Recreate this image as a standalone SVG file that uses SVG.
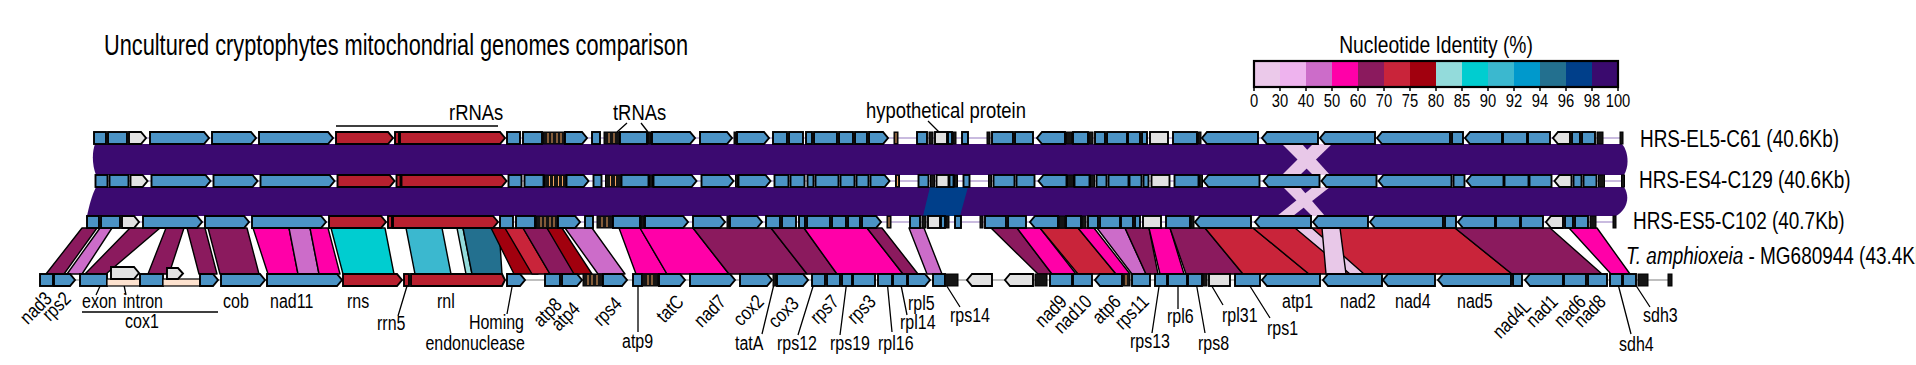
<svg xmlns="http://www.w3.org/2000/svg" width="1916" height="365" viewBox="0 0 1916 365">
<style>
text{font-family:"Liberation Sans",Arial,sans-serif;fill:#000}
.b{fill:#4b93c5;stroke:#000;stroke-width:1.9}
.r{fill:#b8202f;stroke:#000;stroke-width:1.9}
.h{fill:#e2e2e2;stroke:#000;stroke-width:1.9}
.k{fill:#141414;stroke:#000;stroke-width:1}
.i{fill:#fde2cf;stroke:#000;stroke-width:1.2}
.o{stroke:#f2a35e;stroke-width:1}
.bb{stroke:#b7a5d4;stroke-width:1.6}
.bg{stroke:#aaa;stroke-width:1.6}
.lk polygon{stroke:#000;stroke-width:1.4;stroke-linejoin:round}
.ln{stroke:#000;stroke-width:1.3;fill:none}
.DM{fill:#8b1a5e}.MG{fill:#ff00a8}.OR{fill:#cc6cc9}.CY{fill:#00cdd0}.B90{fill:#3bb8cf}.LT{fill:#93dbdb}.TE{fill:#23708f}.DR{fill:#a1000e}.CR{fill:#c9243a}.LV{fill:#e8c8e8}
.lb{font-size:19.5px}
.gl{font-size:22.5px}
.rl{font-size:24px}
.tk{font-size:18px;text-anchor:middle}
.e{text-anchor:end}
</style>
<defs>
<g id="rowGenes">
<line class="bb" x1="94" y1="6" x2="1623" y2="6"/>
<rect class="b" x="94" y="0" width="12" height="12"/>
<rect class="b" x="108" y="0" width="19" height="12"/>
<polygon class="h" points="129,0 141,0 146,6 141,12 129,12"/>
<polygon class="b" points="150,0 204,0 209,6 204,12 150,12"/>
<polygon class="b" points="212,0 251,0 256,6 251,12 212,12"/>
<polygon class="b" points="259,0 328,0 333,6 328,12 259,12"/>
<polygon class="r" points="336,0 388,0 393,6 388,12 336,12"/>
<rect class="r" x="395" y="0" width="4" height="12"/>
<polygon class="r" points="400,0 500,0 505,6 500,12 400,12"/>
<rect class="b" x="507" y="0" width="13" height="12"/>
<rect class="b" x="523" y="0" width="19" height="12"/>
<rect class="k" x="543" y="0" width="22" height="12"/>
<path class="o" d="M548,1V11M552,1V11M557,1V11M561,1V11"/>
<polygon class="b" points="565,0 582,0 587,6 582,12 565,12"/>
<rect class="b" x="592" y="0" width="8" height="12"/>
<rect class="k" x="604" y="0" width="16" height="12"/>
<path class="o" d="M609,1V11M614,1V11"/>
<rect class="b" x="620" y="0" width="27" height="12"/>
<rect class="k" x="648" y="0" width="3" height="12"/>
<polygon class="b" points="652,0 690,0 695,6 690,12 652,12"/>
<polygon class="b" points="700,0 727,0 732,6 727,12 700,12"/>
<rect class="k" x="734" y="0" width="2" height="12"/>
<polygon class="b" points="737,0 764,0 769,6 764,12 737,12"/>
<rect class="b" x="773" y="0" width="14" height="12"/>
<rect class="b" x="789" y="0" width="14" height="12"/>
<rect class="b" x="806" y="0" width="6" height="12"/>
<rect class="b" x="814" y="0" width="23" height="12"/>
<rect class="b" x="839" y="0" width="14" height="12"/>
<rect class="b" x="855" y="0" width="12" height="12"/>
<polygon class="b" points="869,0 883,0 888,6 883,12 869,12"/>
<rect class="k" x="894" y="0" width="4" height="12"/>
<path class="o" d="M896,1V11"/>
<rect class="b" x="917" y="0" width="10" height="12"/>
<rect class="k" x="929" y="0" width="4" height="12"/>
<rect class="h" x="935" y="0" width="12" height="12"/>
<rect class="b" x="948" y="0" width="4" height="12"/>
<rect class="k" x="953" y="0" width="3" height="12"/>
<rect class="b" x="962" y="0" width="6" height="12"/>
<rect class="k" x="987" y="0" width="3" height="12"/>
<rect class="b" x="992" y="0" width="21" height="12"/>
<rect class="b" x="1015" y="0" width="18" height="12"/>
<polygon class="b" points="1042,0 1065,0 1065,12 1042,12 1037,6"/>
<rect class="k" x="1066" y="0" width="6" height="12"/>
<rect class="b" x="1073" y="0" width="15" height="12"/>
<rect class="k" x="1089" y="0" width="4" height="12"/>
<rect class="b" x="1095" y="0" width="10" height="12"/>
<rect class="b" x="1107" y="0" width="20" height="12"/>
<rect class="b" x="1128" y="0" width="12" height="12"/>
<rect class="b" x="1142" y="0" width="5" height="12"/>
<rect class="h" x="1150" y="0" width="18" height="12"/>
<rect class="b" x="1173" y="0" width="24" height="12"/>
<rect class="k" x="1198" y="0" width="3" height="12"/>
<polygon class="b" points="1207,0 1258,0 1258,12 1207,12 1202,6"/>
<polygon class="b" points="1267,0 1318,0 1318,12 1267,12 1262,6"/>
<polygon class="b" points="1325,0 1375,0 1375,12 1325,12 1320,6"/>
<polygon class="b" points="1382,0 1450,0 1450,12 1382,12 1377,6"/>
<rect class="b" x="1452" y="0" width="11" height="12"/>
<polygon class="b" points="1470,0 1502,0 1502,12 1470,12 1465,6"/>
<rect class="b" x="1503" y="0" width="24" height="12"/>
<rect class="b" x="1528" y="0" width="22" height="12"/>
<polygon class="h" points="1558,0 1570,0 1570,12 1558,12 1553,6"/>
<rect class="b" x="1572" y="0" width="8" height="12"/>
<rect class="b" x="1582" y="0" width="13" height="12"/>
<rect class="k" x="1597" y="0" width="6" height="12"/>
<rect class="k" x="1620" y="0" width="3" height="12"/>
</g>
</defs>

<text id="title" x="104" y="55" font-size="29" textLength="584" lengthAdjust="spacingAndGlyphs">Uncultured cryptophytes mitochondrial genomes comparison</text>

<g id="legend">
<text transform="translate(1436,53) scale(.82,1)" font-size="23.5" text-anchor="middle">Nucleotide Identity (%)</text>
<rect x="1254" y="61" width="26" height="26" fill="#ebc9ea"/>
<rect x="1280" y="61" width="26" height="26" fill="#eeb3ee"/>
<rect x="1306" y="61" width="26" height="26" fill="#cc6cc9"/>
<rect x="1332" y="61" width="26" height="26" fill="#ff00a8"/>
<rect x="1358" y="61" width="26" height="26" fill="#8b1a5e"/>
<rect x="1384" y="61" width="26" height="26" fill="#c9243a"/>
<rect x="1410" y="61" width="26" height="26" fill="#a1000e"/>
<rect x="1436" y="61" width="26" height="26" fill="#93dbdb"/>
<rect x="1462" y="61" width="26" height="26" fill="#00cdd0"/>
<rect x="1488" y="61" width="26" height="26" fill="#3bb8cf"/>
<rect x="1514" y="61" width="26" height="26" fill="#0099cc"/>
<rect x="1540" y="61" width="26" height="26" fill="#23708f"/>
<rect x="1566" y="61" width="26" height="26" fill="#003f8a"/>
<rect x="1592" y="61" width="26" height="26" fill="#3a0a6e"/>
<rect x="1254" y="61" width="364" height="26" fill="none" stroke="#000" stroke-width="2.2"/>
<path d="M1254,87v4M1280,87v4M1306,87v4M1332,87v4M1358,87v4M1384,87v4M1410,87v4M1436,87v4M1462,87v4M1488,87v4M1514,87v4M1540,87v4M1566,87v4M1592,87v4M1618,87v4" stroke="#000" stroke-width="1.5"/>
<text class="tk" transform="translate(1254,107) scale(.82,1)">0</text><text class="tk" transform="translate(1280,107) scale(.82,1)">30</text><text class="tk" transform="translate(1306,107) scale(.82,1)">40</text><text class="tk" transform="translate(1332,107) scale(.82,1)">50</text><text class="tk" transform="translate(1358,107) scale(.82,1)">60</text><text class="tk" transform="translate(1384,107) scale(.82,1)">70</text><text class="tk" transform="translate(1410,107) scale(.82,1)">75</text><text class="tk" transform="translate(1436,107) scale(.82,1)">80</text><text class="tk" transform="translate(1462,107) scale(.82,1)">85</text><text class="tk" transform="translate(1488,107) scale(.82,1)">90</text><text class="tk" transform="translate(1514,107) scale(.82,1)">92</text><text class="tk" transform="translate(1540,107) scale(.82,1)">94</text><text class="tk" transform="translate(1566,107) scale(.82,1)">96</text><text class="tk" transform="translate(1592,107) scale(.82,1)">98</text><text class="tk" transform="translate(1618,107) scale(.82,1)">100</text>
</g>

<g id="connectors">
<path d="M95,144 L1622,144 C1629,152 1629,167 1624,175 L96,175 C92,165 92,152 95,144 Z" fill="#3b0a70"/>
<path d="M96,187 L1624,187 C1630,196 1628,209 1616,216 L87,216 C89,206 92,195 96,187 Z" fill="#3b0a70"/>
<polygon class="LV" points="1282,144 1302,144 1330,175 1313,175"/>
<polygon class="LV" points="1313,144 1332,144 1300,175 1282,175"/>
<polygon class="LV" points="1283,187 1300,187 1325,216 1312,216"/>
<polygon class="LV" points="1313,187 1330,187 1293,216 1277,216"/>
<polygon fill="#003f8a" points="930,187 968,187 960,216 923,216"/>
<g class="lk">
<polygon class="DM" points="82,228 97,228 64,274 46,274"/>
<polygon class="OR" points="100,228 112,228 82,274 67,274"/>
<polygon class="DM" points="130,228 160,228 106,274 85,274"/>
<polygon class="DM" points="166,228 184,228 169,274 148,274"/>
<polygon class="DM" points="187,228 205,228 217,274 199,274"/>
<polygon class="DM" points="208,228 247,228 259,274 220,274"/>
<polygon class="MG" points="253,228 289,228 298,274 268,274"/>
<polygon class="OR" points="289,228 310,228 319,274 298,274"/>
<polygon class="MG" points="310,228 328,228 340,274 319,274"/>
<polygon class="CY" points="331,228 385,228 394,274 343,274"/>
<polygon class="B90" points="406,228 442,228 451,274 415,274"/>
<polygon class="LT" points="457,228 463,228 472,274 466,274"/>
<polygon class="TE" points="463,228 499,228 502,274 472,274"/>
<polygon class="DR" points="491,228 505,228 538,274 514,274"/>
<polygon class="CR" points="505,228 523,228 550,274 532,274"/>
<polygon class="DM" points="523,228 547,228 580,274 550,274"/>
<polygon class="DR" points="547,228 562,228 592,274 574,274"/>
<polygon class="OR" points="565,228 592,228 625,274 598,274"/>
<polygon class="MG" points="619,228 640,228 667,274 636,274"/>
<polygon class="MG" points="640,228 693,228 729,274 667,274"/>
<polygon class="DM" points="693,228 771,228 807,274 729,274"/>
<polygon class="DM" points="771,228 804,228 837,274 807,274"/>
<polygon class="MG" points="804,228 867,228 903,274 837,274"/>
<polygon class="DM" points="867,228 882,228 918,274 903,274"/>
<polygon class="OR" points="909,228 924,228 942,274 927,274"/>
<polygon class="DM" points="991,228 1017,228 1052,274 1038,274"/>
<polygon class="MG" points="1017,228 1040,228 1076,274 1052,274"/>
<polygon class="CR" points="1040,228 1078,228 1116,274 1078,274"/>
<polygon class="MG" points="1078,228 1094,228 1130,274 1116,274"/>
<polygon class="OR" points="1097,228 1125,228 1146,274 1132,274"/>
<polygon class="DM" points="1125,228 1149,228 1158,274 1146,274"/>
<polygon class="MG" points="1149,228 1170,228 1184,274 1160,274"/>
<polygon class="DM" points="1170,228 1205,228 1243,274 1186,274"/>
<polygon class="CR" points="1205,228 1253,228 1309,274 1243,274"/>
<polygon class="CR" points="1253,228 1455,228 1512,274 1309,274"/>
<polygon class="LV" points="1295,228 1312,228 1364,274 1350,274"/>
<polygon class="LV" points="1322,228 1340,228 1346,274 1326,274"/>
<polygon class="DM" points="1455,228 1550,228 1602,274 1512,274"/>
<polygon class="MG" points="1569,228 1597,228 1630,274 1611,274"/>
</g>
<path class="ln" d="M336,126H498M627,123L617,132M641,123L648,132M928,121L940,133"/>
<path class="ln" d="M96,295L101,284M126,295L124,285M82,312H218M398,316L407,286M507,314L512,287M638,332V280M762,334L775,280M798,335L815,280M840,335L847,280M892,332L887,280M907,315L900,280M960,307L943,280M1152,333L1160,280M1178,309V282M1205,333L1196,282M1223,305L1210,283M1270,318L1248,283M1631,334L1618,284M1650,307L1635,284"/>
</g>

<g id="genome-HRS-EL5-C61"><use href="#rowGenes" transform="translate(0,132)"/></g>
<g id="genome-HRS-ES4-C129"><use href="#rowGenes" transform="translate(1.5,175)"/></g>
<g id="genome-HRS-ES5-C102"><use href="#rowGenes" transform="translate(-7,216)"/></g>

<g id="genome-T-amphioxeia">
<line class="bg" x1="40" y1="280" x2="1672" y2="280"/>
<rect class="b" x="40" y="274" width="13" height="12"/>
<polygon class="b" points="54,274 70,274 75,280 70,286 54,286"/>
<rect class="b" x="80" y="274" width="27" height="12"/>
<rect class="i" x="107" y="279" width="33" height="7"/>
<polygon class="h" points="111,267 134,267 139,273 134,279 111,279"/>
<rect class="b" x="140" y="274" width="23" height="12"/>
<rect class="i" x="163" y="279" width="37" height="7"/>
<polygon class="h" points="167,268 178,268 183,273.5 178,279 167,279"/>
<polygon class="b" points="200,274 213,274 218,280 213,286 200,286"/>
<polygon class="b" points="221,274 260,274 265,280 260,286 221,286"/>
<polygon class="b" points="267,274 337,274 342,280 337,286 267,286"/>
<polygon class="r" points="343,274 397,274 402,280 397,286 343,286"/>
<rect class="r" x="404" y="274" width="5" height="12"/>
<polygon class="r" points="411,274 502,274 505,280 502,286 411,286"/>
<polygon class="b" points="507,274 520,274 525,280 520,286 507,286"/>
<rect class="b" x="545" y="274" width="15" height="12"/>
<polygon class="b" points="562,274 577,274 582,280 577,286 562,286"/>
<rect class="k" x="583" y="274" width="20" height="12"/>
<path class="o" d="M588,275V285M592,275V285M597,275V285"/>
<polygon class="b" points="603,274 622,274 627,280 622,286 603,286"/>
<rect class="b" x="633" y="274" width="9" height="12"/>
<rect class="k" x="642" y="274" width="16" height="12"/>
<path class="o" d="M648,275V285M652,275V285"/>
<polygon class="b" points="659,274 680,274 685,280 680,286 659,286"/>
<polygon class="b" points="690,274 730,274 735,280 730,286 690,286"/>
<polygon class="b" points="740,274 767,274 772,280 767,286 740,286"/>
<rect class="k" x="773" y="274" width="3" height="12"/>
<polygon class="b" points="777,274 803,274 808,280 803,286 777,286"/>
<rect class="b" x="812" y="274" width="13" height="12"/>
<rect class="b" x="827" y="274" width="13" height="12"/>
<rect class="b" x="842" y="274" width="10" height="12"/>
<rect class="b" x="853" y="274" width="22" height="12"/>
<rect class="b" x="878" y="274" width="14" height="12"/>
<rect class="b" x="893" y="274" width="14" height="12"/>
<polygon class="b" points="908,274 925,274 930,280 925,286 908,286"/>
<rect class="b" x="933" y="274" width="12" height="12"/>
<rect class="k" x="945" y="274" width="13" height="12"/>
<polygon class="h" points="972,274 992,274 992,286 972,286 967,280"/>
<polygon class="h" points="1010,274 1033,274 1033,286 1010,286 1005,280"/>
<rect class="k" x="1035" y="274" width="12" height="12"/>
<rect class="b" x="1050" y="274" width="22" height="12"/>
<rect class="b" x="1073" y="274" width="19" height="12"/>
<polygon class="b" points="1100,274 1122,274 1122,286 1100,286 1095,280"/>
<rect class="k" x="1123" y="274" width="7" height="12"/>
<path class="o" d="M1126,275V285"/>
<rect class="b" x="1132" y="274" width="18" height="12"/>
<rect class="b" x="1155" y="274" width="12" height="12"/>
<rect class="b" x="1168" y="274" width="19" height="12"/>
<rect class="b" x="1188" y="274" width="14" height="12"/>
<rect class="k" x="1203" y="274" width="4" height="12"/>
<rect class="h" x="1209" y="274" width="21" height="12"/>
<rect class="b" x="1235" y="274" width="25" height="12"/>
<polygon class="b" points="1267,274 1320,274 1320,286 1267,286 1262,280"/>
<polygon class="b" points="1328,274 1382,274 1382,286 1328,286 1323,280"/>
<polygon class="b" points="1388,274 1435,274 1435,286 1388,286 1383,280"/>
<polygon class="b" points="1443,274 1511,274 1511,286 1443,286 1438,280"/>
<rect class="b" x="1513" y="274" width="9" height="12"/>
<polygon class="b" points="1530,274 1563,274 1563,286 1530,286 1525,280"/>
<rect class="b" x="1564" y="274" width="22" height="12"/>
<rect class="b" x="1588" y="274" width="19" height="12"/>
<rect class="b" x="1610" y="274" width="12" height="12"/>
<rect class="b" x="1623" y="274" width="13" height="12"/>
<rect class="k" x="1638" y="274" width="10" height="12"/>
<rect class="k" x="1668" y="274" width="4" height="12"/>
</g>

<g id="genome-labels">
<text class="rl" transform="translate(1640,147) scale(.79,1)">HRS-EL5-C61 (40.6Kb)</text>
<text class="rl" transform="translate(1639,188) scale(.79,1)">HRS-ES4-C129 (40.6Kb)</text>
<text class="rl" transform="translate(1633,229) scale(.79,1)">HRS-ES5-C102 (40.7Kb)</text>
<text class="rl" transform="translate(1626,264) scale(.79,1)"><tspan font-style="italic">T. amphioxeia</tspan> - MG680944 (43.4Kb)</text>
</g>

<g id="group-labels">
<text class="gl" transform="translate(449,120) scale(.82,1)">rRNAs</text>
<text class="gl" transform="translate(613,120) scale(.82,1)">tRNAs</text>
<text class="gl" transform="translate(866,118) scale(.82,1)">hypothetical protein</text>
</g>

<g id="gene-labels">
<text class="lb" transform="translate(82,308) scale(.82,1)">exon</text>
<text class="lb" transform="translate(123,308) scale(.82,1)">intron</text>
<text class="lb" transform="translate(125,328) scale(.82,1)">cox1</text>
<text class="lb" transform="translate(223,308) scale(.82,1)">cob</text>
<text class="lb" transform="translate(270,308) scale(.82,1)">nad11</text>
<text class="lb" transform="translate(347,308) scale(.82,1)">rns</text>
<text class="lb" transform="translate(377,330) scale(.82,1)">rrn5</text>
<text class="lb" transform="translate(437,308) scale(.82,1)">rnl</text>
<text class="lb e" transform="translate(524,329) scale(.82,1)">Homing</text>
<text class="lb e" transform="translate(525,350) scale(.82,1)">endonuclease</text>
<text class="lb" transform="translate(622,348) scale(.82,1)">atp9</text>
<text class="lb" transform="translate(735,350) scale(.82,1)">tatA</text>
<text class="lb" transform="translate(777,350) scale(.82,1)">rps12</text>
<text class="lb" transform="translate(830,350) scale(.82,1)">rps19</text>
<text class="lb" transform="translate(878,350) scale(.82,1)">rpl16</text>
<text class="lb" transform="translate(900,329) scale(.82,1)">rpl14</text>
<text class="lb" transform="translate(908,310) scale(.82,1)">rpl5</text>
<text class="lb" transform="translate(950,322) scale(.82,1)">rps14</text>
<text class="lb" transform="translate(1130,348) scale(.82,1)">rps13</text>
<text class="lb" transform="translate(1167,323) scale(.82,1)">rpl6</text>
<text class="lb" transform="translate(1198,350) scale(.82,1)">rps8</text>
<text class="lb" transform="translate(1222,322) scale(.82,1)">rpl31</text>
<text class="lb" transform="translate(1267,335) scale(.82,1)">rps1</text>
<text class="lb" transform="translate(1282,308) scale(.82,1)">atp1</text>
<text class="lb" transform="translate(1340,308) scale(.82,1)">nad2</text>
<text class="lb" transform="translate(1395,308) scale(.82,1)">nad4</text>
<text class="lb" transform="translate(1457,308) scale(.82,1)">nad5</text>
<text class="lb" transform="translate(1619,351) scale(.82,1)">sdh4</text>
<text class="lb" transform="translate(1643,322) scale(.82,1)">sdh3</text>
<text class="lb e" transform="translate(53,300) rotate(-45) scale(.82,1)">nad3</text>
<text class="lb e" transform="translate(72,300) rotate(-45) scale(.82,1)">rps2</text>
<text class="lb e" transform="translate(563,306) rotate(-45) scale(.82,1)">atp8</text>
<text class="lb e" transform="translate(581,310) rotate(-45) scale(.82,1)">atp4</text>
<text class="lb e" transform="translate(623,305) rotate(-45) scale(.82,1)">rps4</text>
<text class="lb e" transform="translate(685,303) rotate(-45) scale(.82,1)">tatC</text>
<text class="lb e" transform="translate(727,303) rotate(-45) scale(.82,1)">nad7</text>
<text class="lb e" transform="translate(765,303) rotate(-45) scale(.82,1)">cox2</text>
<text class="lb e" transform="translate(800,305) rotate(-45) scale(.82,1)">cox3</text>
<text class="lb e" transform="translate(840,303) rotate(-45) scale(.82,1)">rps7</text>
<text class="lb e" transform="translate(877,303) rotate(-45) scale(.82,1)">rps3</text>
<text class="lb e" transform="translate(1068,303) rotate(-45) scale(.82,1)">nad9</text>
<text class="lb e" transform="translate(1093,303) rotate(-45) scale(.82,1)">nad10</text>
<text class="lb e" transform="translate(1122,303) rotate(-45) scale(.82,1)">atp6</text>
<text class="lb e" transform="translate(1150,303) rotate(-45) scale(.82,1)">rps11</text>
<text class="lb e" transform="translate(1532,308) rotate(-45) scale(.82,1)">nad4L</text>
<text class="lb e" transform="translate(1559,303) rotate(-45) scale(.82,1)">nad1</text>
<text class="lb e" transform="translate(1587,303) rotate(-45) scale(.82,1)">nad6</text>
<text class="lb e" transform="translate(1607,303) rotate(-45) scale(.82,1)">nad8</text>
</g>
</svg>
